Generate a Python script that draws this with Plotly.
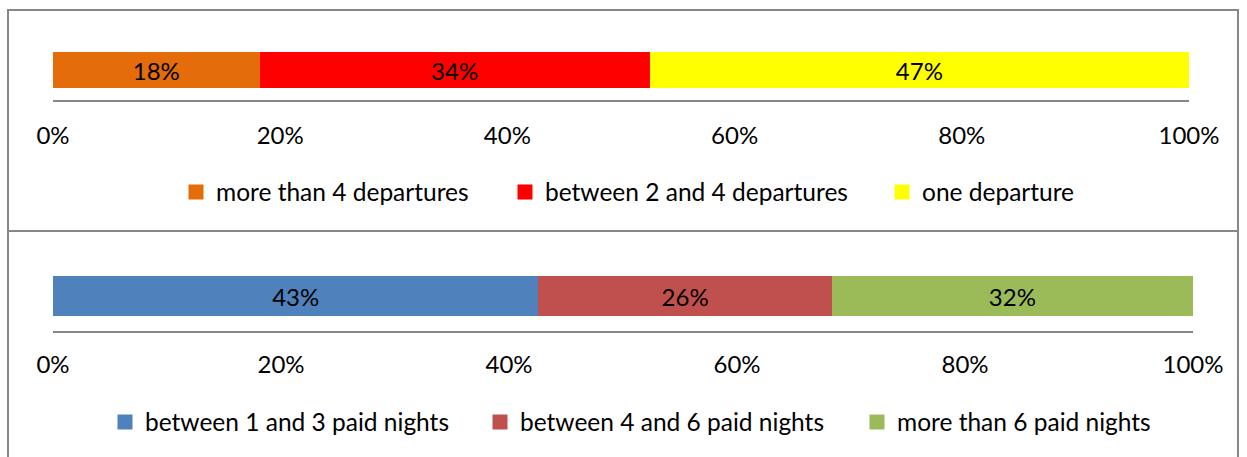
import plotly.graph_objects as go

# Share of trips by number of departures
departure_labels = ["more than 4 departures", "between 2 and 4 departures", "one departure"]
departure_shares = [18, 34, 47]
departure_colors = ["#E46C0A", "#FF0000", "#FFFF00"]

# Share of trips by number of paid nights
night_labels = ["between 1 and 3 paid nights", "between 4 and 6 paid nights", "more than 6 paid nights"]
night_shares = [43, 26, 32]
night_colors = ["#4F81BD", "#C0504D", "#9BBB59"]

tick_values = [0, 20, 40, 60, 80, 100]
tick_labels = ["0%", "20%", "40%", "60%", "80%", "100%"]

W, H = 1247, 457
FONT = "Lato"
GRAY = "#878787"

# left pixel of each legend entry and the pixel row of each legend line
top_legend_left = [176, 505, 882]
bottom_legend_left = [105, 480, 857]
top_legend_row = 192
bottom_legend_row = 422


def px_x(v):
    return v / W


def px_y(v):
    return 1 - v / H


fig = go.Figure()
layout_legends = {}


def add_panel(labels, shares, colors, bar_width, xa, ya, lefts, row, first_legend):
    for i, (name, share, color) in enumerate(zip(labels, shares, colors)):
        fig.add_trace(go.Bar(
            x=[share], y=[0], orientation="h", name=name, showlegend=False,
            marker=dict(color=color, line=dict(width=0)),
            width=bar_width,
            text=[f"{share}%"], textposition="inside", insidetextanchor="middle",
            textangle=0, textfont=dict(color="#000000", size=24, family=FONT),
            xaxis=xa, yaxis=ya,
        ))
        legend_id = "legend" if first_legend + i == 1 else f"legend{first_legend + i}"
        # legend key drawn as a square swatch in the series colour
        fig.add_trace(go.Scatter(
            x=[None], y=[None], mode="markers", name=name, showlegend=True,
            marker=dict(symbol="square", size=15, color=color),
            xaxis=xa, yaxis=ya, legend=legend_id, hoverinfo="skip",
        ))
        layout_legends[legend_id] = dict(
            x=px_x(lefts[i]), y=px_y(row), xanchor="left", yanchor="middle",
            orientation="h", bgcolor="rgba(0,0,0,0)", borderwidth=0,
            font=dict(size=24.5, family=FONT, color="#000000"),
            itemsizing="trace",
        )


add_panel(departure_labels, departure_shares, departure_colors, 0.6, "x", "y",
          top_legend_left, top_legend_row, 1)
add_panel(night_labels, night_shares, night_colors, 0.571, "x2", "y2",
          bottom_legend_left, bottom_legend_row, 4)

axis_common = dict(
    range=[0, 100], tickvals=tick_values, ticktext=tick_labels,
    showgrid=False, zeroline=False, showline=True, linecolor=GRAY, linewidth=2,
    ticks="outside", tickcolor="rgba(0,0,0,0)",
    tickfont=dict(size=24, family=FONT, color="#000000"), fixedrange=True,
)
yaxis_common = dict(range=[-0.5, 0.5], visible=False, fixedrange=True)

fig.update_layout(
    width=W, height=H,
    margin=dict(l=0, r=0, t=0, b=0, autoexpand=False),
    paper_bgcolor="#FFFFFF", plot_bgcolor="#FFFFFF",
    barmode="stack", barnorm="percent",
    font=dict(family=FONT, size=24, color="#000000"),
    xaxis=dict(domain=[px_x(53), px_x(1189)], anchor="y", ticklen=13, **axis_common),
    yaxis=dict(domain=[px_y(100), px_y(40)], anchor="x", **yaxis_common),
    xaxis2=dict(domain=[px_x(53), px_x(1193)], anchor="y2", ticklen=11, **axis_common),
    yaxis2=dict(domain=[px_y(331), px_y(261)], anchor="x2", **yaxis_common),
    showlegend=True,
    hovermode=False,
    shapes=[
        dict(type="rect", xref="paper", yref="paper",
             x0=px_x(8), x1=px_x(1238), y0=px_y(231), y1=px_y(10),
             line=dict(color=GRAY, width=2), fillcolor="rgba(0,0,0,0)", layer="below"),
        dict(type="rect", xref="paper", yref="paper",
             x0=px_x(8), x1=px_x(1238), y0=px_y(480), y1=px_y(231),
             line=dict(color=GRAY, width=2), fillcolor="rgba(0,0,0,0)", layer="below"),
    ],
    **layout_legends,
)

fig.write_html("out.html")
